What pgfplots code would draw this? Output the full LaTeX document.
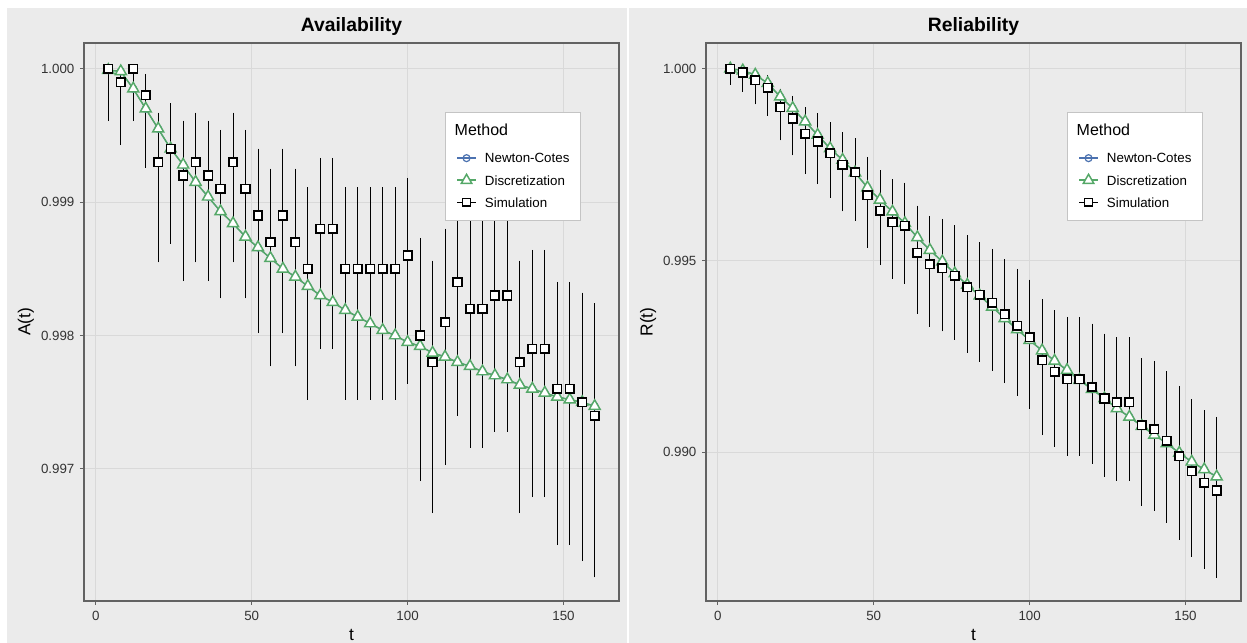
\documentclass[border=0pt]{standalone}
\usepackage{pgfplots}
\pgfplotsset{compat=1.18}
\usepackage{pgfplotstable}
\usepackage{fontspec}
\setmainfont{Liberation Sans}
\definecolor{panelbg}{HTML}{EBEBEB}
\definecolor{gridc}{HTML}{D9D9D9}
\definecolor{framec}{HTML}{626262}
\definecolor{ncblue}{HTML}{4C72B0}
\definecolor{dgreen}{HTML}{55A868}
\definecolor{tickc}{HTML}{333333}
\definecolor{legframe}{HTML}{C4C4C4}

\pgfplotstableread{
t v
4 0.99999
8 0.99998
12 0.99985
16 0.99970
20 0.99955
24 0.99940
28 0.99928
32 0.99915
36 0.99904
40 0.99893
44 0.99884
48 0.99874
52 0.99866
56 0.99858
60 0.99850
64 0.99844
68 0.99837
72 0.99830
76 0.99825
80 0.99819
84 0.99814
88 0.99809
92 0.99804
96 0.99800
100 0.99795
104 0.99792
108 0.99787
112 0.99784
116 0.99780
120 0.99777
124 0.99773
128 0.99770
132 0.99767
136 0.99763
140 0.99760
144 0.99757
148 0.99754
152 0.99752
156 0.99750
160 0.99747
}\Adisc

\pgfplotstableread{
t v lo hi
4 1.0000 0.99962 1.00000
8 0.9999 0.99944 0.99999
12 1.0000 0.99962 1.00000
16 0.9998 0.99927 0.99995
20 0.9993 0.99856 0.99966
24 0.9994 0.99870 0.99973
28 0.9992 0.99842 0.99960
32 0.9993 0.99856 0.99966
36 0.9992 0.99842 0.99960
40 0.9991 0.99829 0.99953
44 0.9993 0.99856 0.99966
48 0.9991 0.99829 0.99953
52 0.9989 0.99803 0.99939
56 0.9987 0.99778 0.99924
60 0.9989 0.99803 0.99939
64 0.9987 0.99778 0.99924
68 0.9985 0.99753 0.99910
72 0.9988 0.99791 0.99932
76 0.9988 0.99791 0.99932
80 0.9985 0.99753 0.99910
84 0.9985 0.99753 0.99910
88 0.9985 0.99753 0.99910
92 0.9985 0.99753 0.99910
96 0.9985 0.99753 0.99910
100 0.9986 0.99765 0.99917
104 0.9980 0.99692 0.99872
108 0.9978 0.99668 0.99855
112 0.9981 0.99704 0.99879
116 0.9984 0.99741 0.99903
120 0.9982 0.99717 0.99886
124 0.9982 0.99717 0.99886
128 0.9983 0.99729 0.99894
132 0.9983 0.99729 0.99894
136 0.9978 0.99668 0.99855
140 0.9979 0.99680 0.99863
144 0.9979 0.99680 0.99863
148 0.9976 0.99644 0.99839
152 0.9976 0.99644 0.99839
156 0.9975 0.99632 0.99831
160 0.9974 0.99620 0.99823
}\Asim

\pgfplotstableread{
t v
4 1.00000
8 0.99995
12 0.99984
16 0.99962
20 0.99927
24 0.99897
28 0.99862
32 0.99827
36 0.99792
40 0.99762
44 0.99729
48 0.99690
52 0.99658
56 0.99627
60 0.99597
64 0.99560
68 0.99527
72 0.99497
76 0.99466
80 0.99436
84 0.99408
88 0.99379
92 0.99349
96 0.99320
100 0.99292
104 0.99265
108 0.99238
112 0.99214
116 0.99188
120 0.99164
124 0.99140
128 0.99114
132 0.99092
136 0.99068
140 0.99045
144 0.99023
148 0.98998
152 0.98975
156 0.98955
160 0.98936
}\Rdisc

\pgfplotstableread{
t v lo hi
4 1.0000 0.99962 1.00000
8 0.9999 0.99944 0.99998
12 0.9997 0.99911 0.99993
16 0.9995 0.99882 0.99979
20 0.9990 0.99817 0.99944
24 0.9987 0.99778 0.99925
28 0.9983 0.99729 0.99895
32 0.9981 0.99703 0.99880
36 0.9978 0.99667 0.99856
40 0.9975 0.99632 0.99830
44 0.9973 0.99608 0.99815
48 0.9967 0.99537 0.99766
52 0.9963 0.99492 0.99731
56 0.9960 0.99457 0.99708
60 0.9959 0.99444 0.99699
64 0.9952 0.99365 0.99639
68 0.9949 0.99331 0.99612
72 0.9948 0.99319 0.99604
76 0.9946 0.99297 0.99587
80 0.9943 0.99264 0.99562
84 0.9941 0.99240 0.99543
88 0.9939 0.99217 0.99526
92 0.9936 0.99184 0.99499
96 0.9933 0.99152 0.99474
100 0.9930 0.99118 0.99446
104 0.9924 0.99049 0.99394
108 0.9921 0.99018 0.99366
112 0.9919 0.98995 0.99349
116 0.9919 0.98995 0.99349
120 0.9917 0.98974 0.99331
124 0.9914 0.98940 0.99305
128 0.9913 0.98930 0.99296
132 0.9913 0.98930 0.99296
136 0.9907 0.98865 0.99241
140 0.9906 0.98852 0.99234
144 0.9903 0.98820 0.99207
148 0.9899 0.98776 0.99169
152 0.9895 0.98732 0.99134
156 0.9892 0.98700 0.99105
160 0.9890 0.98677 0.99088
}\Rsim

\pgfplotsset{
  legline/.style={legend image code/.code={
      \path[draw=none, fill=none] (0cm,-5pt) rectangle (0.48cm,5pt);
      \draw[mark repeat=2,mark phase=2] plot coordinates {(0cm,0cm) (0.24cm,0cm) (0.48cm,0cm)};}},
  ncstyle/.style={ncblue, line width=0.75pt, mark=o, mark size=2.6pt, mark options={fill=white, line width=0.9pt}},
  dsstyle/.style={dgreen, line width=1.1pt, mark=triangle*, mark size=4.8pt, mark options={fill=white, line width=1.1pt}},
  sqstyle/.style={black, mark=square*, mark size=3.2pt, mark options={fill=white, line width=1.2pt}},
  panel/.style={
    scale only axis, width=401.25pt, height=418.5pt,
    xmin=-3.8, xmax=167.8,
    xtick={0,50,100,150}, xticklabels={0,50,100,150},
    tick pos=left, tick align=outside, major tick length=3pt,
    axis line style={framec, line width=1pt},
    tick style={framec, line width=0.8pt},
    grid=major, major grid style={gridc, line width=0.75pt},
    /pgf/number format/assume math mode=true,
    ticklabel style={font=\fontsize{10}{12}\selectfont, text=tickc},
    xticklabel style={anchor=north, inner sep=0pt, yshift=-4.1pt},
    yticklabel style={anchor=east, inner sep=0pt, xshift=-4pt},
    title style={at={(axis description cs:0.5,1.0203)}, anchor=base, yshift=-6pt, font=\bfseries\fontsize{14.5}{17}\selectfont},
    xlabel style={at={(axis description cs:0.5,-0.0699)}, anchor=base, font=\fontsize{13}{15}\selectfont},
    ylabel style={at={(axis description cs:-0.1,0.5)}, anchor=base, font=\fontsize{13}{15}\selectfont},
    xlabel={t},
    legend cell align=left,
    legend style={at={(axis description cs:0.675,0.876)}, anchor=north west,
      fill=white, draw=legframe, line width=0.75pt, inner xsep=8.25pt, inner ysep=5.4pt,
      row sep=0pt, /tikz/column sep=6.4pt,
      nodes={inner sep=0pt, text depth=, text height=},
      font=\fontsize{10}{12}\selectfont},
  },
  ebars/.style={only marks, mark=none,
    error bars/y dir=both, error bars/y explicit,
    error bars/error bar style={line width=0.65pt, black},
    error bars/error mark options={black, line width=0.65pt, mark size=1.2pt}},
}

\newcommand{\legtitle}{\addlegendimage{empty legend}\addlegendentry{\fontsize{12}{14}\selectfont\hspace*{-22.7pt}\rule[-8.6pt]{0pt}{20.4pt}Method}}
\newcommand{\ent}{\rule[-4.72pt]{0pt}{16.6pt}}
\newcommand{\legall}{%
  \legtitle
  \addlegendimage{legline, ncstyle, line width=1pt}\addlegendentry{\ent Newton-Cotes}
  \addlegendimage{legline, dsstyle, mark size=4.5pt, line width=1.2pt}\addlegendentry{\ent Discretization}
  \addlegendimage{legline, sqstyle, line width=1.1pt, mark size=2.9pt}\addlegendentry{\ent Simulation}}

\begin{document}
\begin{tikzpicture}
\useasboundingbox (0,0) rectangle (935.25pt,482.25pt);
\fill[panelbg] (5.25pt,0) rectangle (469.9pt,476.25pt);
\fill[panelbg] (471.75pt,0) rectangle (935.25pt,476.25pt);

\begin{axis}[panel, at={(63pt,31.5pt)}, anchor=south west,
  ymin=0.99601, ymax=1.000193,
  ytick={0.997,0.998,0.999,1}, yticklabels={0.997,0.998,0.999,1.000},
  title={Availability}, ylabel={A(t)}]
  \legall
  \addplot[ncstyle, forget plot] table[x=t, y=v] {\Adisc};
  \addplot[dsstyle, forget plot] table[x=t, y=v] {\Adisc};
  \addplot[forget plot, ebars] table[x=t, y=v,
     y error plus expr=\thisrow{hi}-\thisrow{v},
     y error minus expr=\thisrow{v}-\thisrow{lo}] {\Asim};
  \addplot[forget plot, only marks, sqstyle] table[x=t, y=v] {\Asim};
\end{axis}

\begin{axis}[panel, at={(529.5pt,31.5pt)}, anchor=south west,
  ymin=0.98612, ymax=1.00067,
  ytick={0.990,0.995,1}, yticklabels={0.990,0.995,1.000},
  title={Reliability}, ylabel={R(t)}]
  \legall
  \addplot[ncstyle, forget plot] table[x=t, y=v] {\Rdisc};
  \addplot[dsstyle, forget plot] table[x=t, y=v] {\Rdisc};
  \addplot[forget plot, ebars] table[x=t, y=v,
     y error plus expr=\thisrow{hi}-\thisrow{v},
     y error minus expr=\thisrow{v}-\thisrow{lo}] {\Rsim};
  \addplot[forget plot, only marks, sqstyle] table[x=t, y=v] {\Rsim};
\end{axis}
\end{tikzpicture}
\end{document}
